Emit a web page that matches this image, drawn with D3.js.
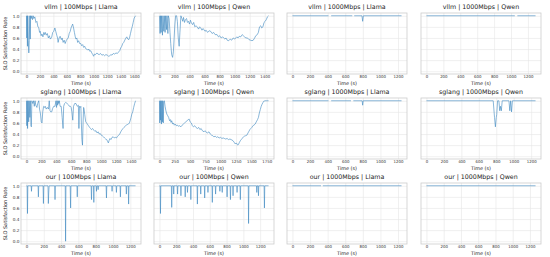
<!DOCTYPE html>
<html>
<head>
<meta charset="utf-8">
<script src="https://cdn.jsdelivr.net/npm/d3@7"></script>
<style>
  body { margin: 0; background: #fff; }
  text { font-family: "DejaVu Sans", sans-serif; }
</style>
</head>
<body>
<div id="chart"></div>
<script>
// SLO satisfaction rate over time, one series per (system, bandwidth, model)
// each point is [time (s), rate]; null rate = gap in the line
const vllm100Llama = [
  [0,1.0],[5,0.6],[10,1.0],[15,0.45],[20,1.0],[28,0.55],[35,0.33],[42,0.55],[50,1.0],[56,0.58],[62,1.0],[70,0.95],[80,1.0],[90,0.93],[100,1.0],[110,0.95],[125,0.98],[140,0.88],[155,0.9],[170,0.8],[182,0.79],[195,0.7],[205,0.72],[218,0.64],[230,0.67],[245,0.62],[258,0.7],[270,0.66],[280,0.7],[295,0.65],[310,0.68],[325,0.6],[340,0.64],[355,0.58],[374,0.61],[390,0.7],[405,0.72],[422,0.78],[435,0.72],[450,0.65],[462,0.6],[470,0.52],[485,0.6],[500,0.63],[518,0.57],[530,0.6],[545,0.52],[560,0.56],[575,0.5],[590,0.55],[605,0.58],[620,0.6],[635,0.68],[650,0.72],[662,0.78],[675,0.82],[686,0.85],[700,0.78],[712,0.7],[725,0.62],[734,0.58],[748,0.6],[760,0.52],[775,0.55],[790,0.5],[806,0.5],[820,0.46],[835,0.48],[850,0.43],[865,0.45],[878,0.41],[895,0.4],[910,0.38],[925,0.4],[940,0.36],[955,0.37],[970,0.33],[985,0.3],[998,0.27],[1010,0.31],[1025,0.3],[1046,0.33],[1060,0.31],[1080,0.3],[1100,0.32],[1120,0.29],[1142,0.3],[1160,0.28],[1180,0.3],[1200,0.29],[1220,0.27],[1238,0.28],[1255,0.3],[1270,0.29],[1290,0.32],[1310,0.31],[1330,0.33],[1350,0.32],[1370,0.35],[1385,0.37],[1400,0.42],[1415,0.45],[1430,0.5],[1445,0.52],[1460,0.56],[1478,0.6],[1490,0.62],[1505,0.58],[1520,0.57],[1530,0.6],[1545,0.68],[1560,0.76],[1570,0.8],[1585,0.88],[1600,0.96],[1610,0.98],[1620,1.0]
];
const vllm100Qwen = [
  [0,1],[8,0.68],[14,1],[22,0.7],[28,1],[40,0.65],[46,1],[58,0.72],[64,1],[75,0.7],[82,1],[95,0.75],[100,1],[112,0.68],[118,1],[128,0.95],[140,0.7],[150,0.5],[162,0.3],[175,0.25],[185,0.35],[195,0.6],[205,0.85],[215,1],[228,1],[238,0.9],[250,0.6],[262,0.45],[272,0.7],[285,1],[298,0.95],[310,0.9],[320,0.97],[333,0.88],[345,0.93],[360,0.95],[372,0.88],[385,0.9],[400,0.85],[412,0.92],[425,0.87],[440,0.84],[455,0.88],[470,0.8],[485,0.82],[503,0.8],[520,0.76],[535,0.8],[550,0.78],[565,0.74],[580,0.77],[590,0.75],[605,0.72],[620,0.74],[640,0.7],[660,0.73],[680,0.72],[700,0.68],[720,0.7],[740,0.66],[766,0.66],[785,0.62],[800,0.64],[820,0.6],[840,0.62],[853,0.6],[870,0.58],[885,0.6],[900,0.56],[920,0.55],[940,0.58],[960,0.56],[980,0.6],[1000,0.58],[1028,0.62],[1045,0.6],[1060,0.63],[1080,0.62],[1100,0.66],[1115,0.64],[1130,0.62],[1150,0.6],[1170,0.6],[1190,0.57],[1210,0.56],[1230,0.55],[1247,0.56],[1265,0.6],[1280,0.64],[1300,0.66],[1315,0.7],[1330,0.8],[1345,0.82],[1360,0.78],[1375,0.8],[1390,0.88],[1405,0.9],[1420,0.93],[1435,0.98],[1450,1.0]
];
const vllm1000Llama = [[0,1],[410,1],[425,null],[440,1],[680,1],[690,null],[702,1],[790,1],[798,0.9],[806,1],[1240,1]];
const vllm1000Qwen = [[0,1],[1045,1],[1060,null],[1075,1],[1290,1]];

const sglang100Llama = [
  [0,1],[5,0.55],[10,1],[15,0.5],[22,1],[30,0.62],[36,1],[45,0.7],[52,1],[60,0.55],[66,0.53],[72,1],[85,0.95],[95,1],[105,0.9],[115,1],[125,0.92],[140,0.88],[150,0.95],[165,1],[175,0.85],[186,0.78],[198,0.62],[208,0.6],[218,0.8],[230,0.9],[245,0.88],[251,0.9],[265,0.85],[280,0.88],[295,0.85],[305,1],[315,0.82],[325,0.8],[338,0.8],[350,0.86],[365,0.9],[381,0.9],[395,1],[402,0.88],[410,1],[418,0.92],[425,1],[432,0.95],[440,1],[450,0.9],[465,0.9],[478,0.7],[490,0.5],[498,0.9],[510,0.95],[525,0.97],[545,0.95],[560,0.93],[575,0.9],[590,0.9],[598,0.88],[608,0.8],[620,0.65],[630,0.9],[645,0.95],[663,0.95],[680,0.9],[695,0.92],[702,0.5],[710,0.9],[720,0.88],[728,0.9],[735,0.6],[742,0.3],[750,0.2],[758,0.6],[765,0.88],[771,0.85],[780,0.75],[793,0.62],[805,0.6],[815,0.58],[830,0.55],[845,0.52],[858,0.5],[870,0.48],[885,0.5],[901,0.47],[915,0.45],[930,0.46],[945,0.42],[960,0.44],[975,0.4],[988,0.41],[1000,0.38],[1015,0.37],[1031,0.35],[1045,0.33],[1060,0.31],[1075,0.3],[1085,0.27],[1096,0.24],[1105,0.28],[1118,0.32],[1130,0.3],[1145,0.34],[1161,0.35],[1175,0.33],[1190,0.34],[1205,0.33],[1220,0.36],[1235,0.38],[1248,0.4],[1262,0.44],[1275,0.47],[1292,0.5],[1305,0.52],[1320,0.54],[1335,0.56],[1350,0.57],[1365,0.58],[1378,0.6],[1390,0.65],[1400,0.7],[1410,0.76],[1422,0.8],[1435,0.88],[1448,0.95],[1460,1.0]
];
const sglang100Qwen = [
  [0,1],[5,0.6],[12,1],[18,0.65],[25,1],[32,0.58],[40,1],[48,0.62],[55,1],[62,0.6],[70,0.98],[80,1],[92,0.9],[105,0.82],[120,0.76],[135,0.73],[150,0.7],[165,0.64],[180,0.66],[188,0.61],[200,0.64],[215,0.58],[230,0.6],[242,0.56],[260,0.58],[275,0.55],[296,0.56],[310,0.54],[330,0.55],[350,0.53],[370,0.56],[390,0.58],[410,0.6],[430,0.62],[450,0.64],[470,0.66],[485,0.67],[500,0.62],[520,0.6],[538,0.55],[555,0.53],[575,0.55],[595,0.52],[620,0.5],[640,0.52],[660,0.48],[680,0.5],[700,0.46],[727,0.44],[745,0.46],[765,0.43],[785,0.42],[808,0.44],[830,0.4],[850,0.38],[870,0.37],[888,0.35],[910,0.36],[930,0.34],[950,0.35],[975,0.33],[996,0.34],[1020,0.32],[1040,0.33],[1060,0.32],[1080,0.31],[1104,0.32],[1125,0.3],[1150,0.31],[1170,0.3],[1185,0.29],[1200,0.28],[1220,0.25],[1238,0.22],[1255,0.24],[1270,0.21],[1280,0.2],[1292,0.22],[1305,0.25],[1320,0.28],[1335,0.3],[1346,0.32],[1365,0.34],[1385,0.36],[1405,0.37],[1427,0.38],[1445,0.42],[1460,0.45],[1475,0.48],[1490,0.5],[1508,0.52],[1525,0.55],[1540,0.56],[1562,0.58],[1580,0.62],[1600,0.66],[1615,0.7],[1630,0.78],[1645,0.84],[1660,0.9],[1675,0.94],[1690,0.97],[1700,0.99],[1723,1.0],[1750,1.0],[1780,1.0]
];
const sglang1000Llama = [[0,1],[410,1],[425,null],[440,1],[665,1],[680,null],[692,1],[792,1],[798,0.92],[804,1],[1240,1]];
const sglang1000Qwen = [[0,1],[765,1],[780,0.7],[790,0.53],[800,0.7],[805,0.75],[815,1],[830,1],[840,0.82],[848,0.9],[858,0.82],[868,1],[945,1],[955,0.82],[965,1],[975,0.8],[985,1],[1250,1]];

const our100Llama = [
  [0,1],[8,1],[12,0.5],[16,1],[54,1],[58,0.9],[62,1],[134,1],[138,0.8],[142,1],[192,1],[196,0.68],[200,1],[249,1],[253,0.68],[257,0.87],[262,1],[326,1],[330,0.75],[334,1],[448,1],[452,0.0],[456,1],[505,1],[510,0.6],[514,1],[583,1],[587,0.8],[591,1],[747,1],[751,0.75],[755,1],[774,1],[778,0.7],[782,1],[805,1],[809,0.9],[813,1],[824,1],[828,0.93],[832,1],[920,1],[924,0.78],[928,1],[985,1],[989,0.9],[993,1],[1035,1],[1039,0.88],[1043,1],[1081,1],[1085,0.8],[1089,1],[1150,1],[1154,0.85],[1158,1],[1176,1],[1180,0.67],[1184,1],[1260,1]
];
const our100Qwen = [
  [0,1],[8,1],[12,0.5],[16,1],[142,1],[146,0.61],[150,1],[166,1],[170,0.85],[174,1],[212,1],[216,0.85],[220,1],[252,1],[256,0.82],[260,1],[303,1],[307,0.8],[311,1],[330,1],[334,0.88],[338,1],[370,1],[374,0.75],[378,1],[448,1],[452,0.67],[456,1],[488,1],[492,0.85],[496,1],[535,1],[539,0.78],[543,1],[574,1],[578,0.88],[582,1],[626,1],[630,0.7],[634,1],[665,1],[669,0.85],[673,1],[716,1],[720,0.9],[724,1],[744,1],[748,0.88],[752,1],[802,1],[806,0.8],[810,1],[842,1],[846,0.75],[850,1],[873,1],[877,0.82],[881,1],[921,1],[925,0.88],[929,1],[960,1],[964,0.75],[968,1],[1058,1],[1062,0.32],[1066,1],[1156,1],[1160,0.88],[1164,1],[1176,1],[1180,0.82],[1184,1],[1247,1],[1251,0.6],[1255,1],[1300,1]
];
const our1000Llama = [[0,1],[325,1],[335,null],[345,1],[1240,1]];
const our1000Qwen = [[0,1],[1265,1]];

const titles = [
  "vllm | 100Mbps | Llama", "vllm | 100Mbps | Qwen", "vllm | 1000Mbps | Llama", "vllm | 1000Mbps | Qwen",
  "sglang | 100Mbps | Llama", "sglang | 100Mbps | Qwen", "sglang | 1000Mbps | Llama", "sglang | 1000Mbps | Qwen",
  "our | 100Mbps | Llama", "our | 100Mbps | Qwen", "our | 1000Mbps | Llama", "our | 1000Mbps | Qwen"
];
const series = [
  vllm100Llama, vllm100Qwen, vllm1000Llama, vllm1000Qwen,
  sglang100Llama, sglang100Qwen, sglang1000Llama, sglang1000Qwen,
  our100Llama, our100Qwen, our1000Llama, our1000Qwen
];
const ticks1600 = [0, 200, 400, 600, 800, 1000, 1200, 1400, 1600];
const ticks1400 = [0, 200, 400, 600, 800, 1000, 1200, 1400];
const ticks1200 = [0, 200, 400, 600, 800, 1000, 1200];
const ticks1750 = [0, 250, 500, 750, 1000, 1250, 1500, 1750];
const xTicks = [
  ticks1600, ticks1400, ticks1200, ticks1200,
  ticks1400, ticks1750, ticks1200, ticks1200,
  ticks1200, ticks1200, ticks1200, ticks1200
];
const yTicks = [0, 0.2, 0.4, 0.6, 0.8, 1.0];

const W = 550, H = 257;
const colLeft = [21, 154, 287, 421];
const rowTop = [13, 98, 183];
const axW = 120, axH = 61;
const lineColor = "#3a87c0";

const svg = d3.select("#chart").append("svg")
  .attr("width", W)
  .attr("height", H);

const y = d3.scaleLinear().domain([-0.05, 1.05]).range([axH, 0]);

series.forEach((data, i) => {
  const r = Math.floor(i / 4), c = i % 4;
  const L = d3.max(data, d => d[0]);
  const x = d3.scaleLinear().domain([-0.05 * L, 1.05 * L]).range([0, axW]);

  const g = svg.append("g").attr("transform", `translate(${colLeft[c]},${rowTop[r]})`);

  // x grid + tick labels
  const xa = g.append("g")
    .attr("transform", `translate(0,${axH})`)
    .call(d3.axisBottom(x).tickValues(xTicks[i]).tickSize(-axH).tickPadding(1.2).tickFormat(d3.format("d")));
  xa.select(".domain").remove();
  xa.selectAll("line").attr("stroke", "#e6e6e6").attr("stroke-width", 0.6);
  xa.selectAll("text").attr("font-size", 3.9).attr("fill", "#333").attr("font-family", "DejaVu Sans");

  // y grid (+ labels on first column)
  const ya = g.append("g")
    .call(d3.axisLeft(y).tickValues(yTicks).tickSize(-axW).tickPadding(1.5).tickFormat(d3.format(".1f")));
  ya.select(".domain").remove();
  ya.selectAll("line").attr("stroke", "#e6e6e6").attr("stroke-width", 0.6);
  ya.selectAll("text").attr("font-size", 4.2).attr("fill", "#333").attr("font-family", "DejaVu Sans");
  if (c > 0) ya.selectAll("text").remove();

  // frame
  g.append("rect")
    .attr("width", axW).attr("height", axH)
    .attr("fill", "none").attr("stroke", "#cccccc").attr("stroke-width", 0.8);

  const line = d3.line()
    .defined(d => d[1] !== null)
    .x(d => x(d[0]))
    .y(d => y(d[1]));

  g.append("path")
    .datum(data)
    .attr("d", line)
    .attr("fill", "none")
    .attr("stroke", lineColor)
    .attr("stroke-width", 0.6)
    .attr("stroke-linejoin", "round");

  g.append("text")
    .attr("x", axW / 2).attr("y", -4)
    .attr("text-anchor", "middle")
    .attr("font-size", 6.3).attr("fill", "#222")
    .text(titles[i]);

  g.append("text")
    .attr("x", axW / 2).attr("y", axH + 10.5)
    .attr("text-anchor", "middle")
    .attr("font-size", 4.9).attr("fill", "#222")
    .text("Time (s)");

  if (c === 0) {
    g.append("text")
      .attr("transform", `translate(${-14},${axH / 2}) rotate(-90)`)
      .attr("text-anchor", "middle")
      .attr("font-size", 5).attr("fill", "#222")
      .text("SLO Satisfaction Rate");
  }
});
</script>
</body>
</html>
